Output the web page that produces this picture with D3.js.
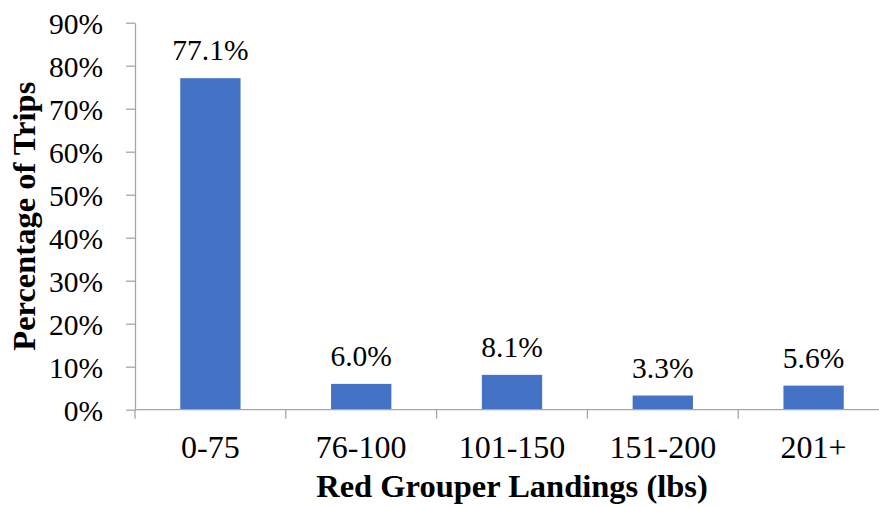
<!DOCTYPE html>
<html>
<head>
<meta charset="utf-8">
<script src="https://cdn.jsdelivr.net/npm/d3@7/dist/d3.min.js"></script>
<style>
  body { margin: 0; background: #fff; }
  svg { display: block; }
  svg text { font-family: "Liberation Serif", "Times New Roman", "DejaVu Serif", serif; fill: #000; }
</style>
</head>
<body>
<svg id="chart" width="879" height="507"></svg>
<script>
const categories = ["0-75", "76-100", "101-150", "151-200", "201+"];
const values = [77.1, 6.0, 8.1, 3.3, 5.6];
const valueLabels = ["77.1%", "6.0%", "8.1%", "3.3%", "5.6%"];
const yTicks = [0, 10, 20, 30, 40, 50, 60, 70, 80, 90];
const xTitle = "Red Grouper Landings (lbs)";
const yTitle = "Percentage of Trips";

const FONT = '"Liberation Serif", "Times New Roman", "DejaVu Serif", serif';
const svg = d3.select("#chart").attr("font-family", FONT);
const mLeft = 135, mRight = 889, mTop = 22.7, mBottom = 409.7;

const x = d3.scaleBand().domain(categories).range([mLeft, mRight]).paddingInner(0.6).paddingOuter(0.3);
const xb = d3.scaleBand().domain(categories).range([mLeft, mRight]);
const y = d3.scaleLinear().domain([0, 90]).range([mBottom, mTop]);

const axisColor = "#a6a6a6";

// y axis
const yAxis = svg.append("g").attr("transform", `translate(${mLeft},0)`)
  .call(d3.axisLeft(y).tickValues(yTicks).tickSize(9).tickSizeOuter(0).tickFormat(d => d + "%"));
yAxis.attr("font-family", FONT);
yAxis.select(".domain").attr("stroke", axisColor).attr("stroke-width", 1.3);
yAxis.selectAll(".tick line").attr("stroke", axisColor).attr("stroke-width", 1.3);
yAxis.selectAll(".tick text").attr("font-size", 29.5).attr("x", -32)
  .attr("fill", "#000").attr("dy", "0.35em");

// bars
svg.append("g").selectAll("rect").data(values).join("rect")
  .attr("x", (d, i) => x(categories[i]))
  .attr("width", x.bandwidth())
  .attr("y", d => y(d))
  .attr("height", d => y(0) - y(d))
  .attr("fill", "#4472c4");

// x axis
const xAxisG = svg.append("g").attr("transform", `translate(0,${mBottom})`);
xAxisG.append("line").attr("x1", mLeft).attr("x2", mRight).attr("y1", 0).attr("y2", 0)
  .attr("stroke", axisColor).attr("stroke-width", 1.3);
const boundaries = categories.map(c => xb(c)).concat([mRight]);
xAxisG.selectAll("line.tk").data(boundaries).join("line").attr("class", "tk")
  .attr("x1", d => d).attr("x2", d => d).attr("y1", 0).attr("y2", 9)
  .attr("stroke", axisColor).attr("stroke-width", 1.3);
xAxisG.selectAll("text").data(categories).join("text")
  .attr("x", d => xb(d) + xb.bandwidth() / 2)
  .attr("y", 48.5)
  .attr("text-anchor", "middle")
  .attr("font-size", 32)
  .text(d => d);

// value labels
svg.append("g").selectAll("text").data(values).join("text")
  .attr("x", (d, i) => x(categories[i]) + x.bandwidth() / 2)
  .attr("y", d => y(d) - 18)
  .attr("text-anchor", "middle")
  .attr("font-size", 29.5)
  .text((d, i) => valueLabels[i]);

// titles
svg.append("text").attr("x", (mLeft + mRight) / 2).attr("y", 497)
  .attr("text-anchor", "middle").attr("font-size", 32.5).attr("font-weight", "bold")
  .text(xTitle);
svg.append("text").attr("transform", `translate(35,${(mTop + mBottom) / 2}) rotate(-90)`)
  .attr("text-anchor", "middle").attr("font-size", 32.5).attr("font-weight", "bold")
  .text(yTitle);
</script>
</body>
</html>
